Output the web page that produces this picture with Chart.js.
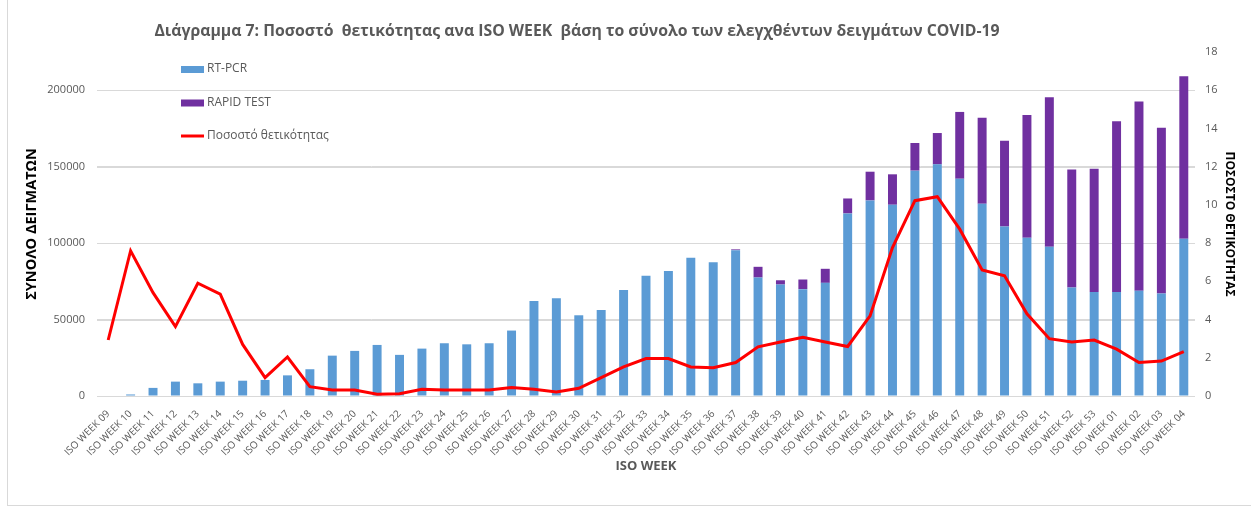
<!DOCTYPE html>
<html>
<head>
<meta charset="utf-8">
<script src="https://cdn.jsdelivr.net/npm/chart.js@4.4.1/dist/chart.umd.min.js"></script>
<style>
  html, body { margin: 0; padding: 0; background: #fff; }
  #wrap { position: relative; width: 1251px; height: 518px; }
  #chart { position: absolute; left: 0; top: 0; z-index: 1; }
  #frameL { position: absolute; left: 7px; top: 0; width: 1px; height: 506px; background: #d9d9d9; }
  #frameB { position: absolute; left: 7px; top: 505px; width: 1244px; height: 1px; background: #d9d9d9; }
  .gridline { position: absolute; height: 1px; background: #d9d9d9; z-index: 0; }
</style>
</head>
<body>
<div id="wrap">
  <div id="frameL"></div>
  <div id="frameB"></div>
  <canvas id="chart" width="1251" height="518"></canvas>
</div>
<script>
const weeks = [
  'ISO WEEK 09','ISO WEEK 10','ISO WEEK 11','ISO WEEK 12','ISO WEEK 13','ISO WEEK 14','ISO WEEK 15','ISO WEEK 16',
  'ISO WEEK 17','ISO WEEK 18','ISO WEEK 19','ISO WEEK 20','ISO WEEK 21','ISO WEEK 22','ISO WEEK 23','ISO WEEK 24',
  'ISO WEEK 25','ISO WEEK 26','ISO WEEK 27','ISO WEEK 28','ISO WEEK 29','ISO WEEK 30','ISO WEEK 31','ISO WEEK 32',
  'ISO WEEK 33','ISO WEEK 34','ISO WEEK 35','ISO WEEK 36','ISO WEEK 37','ISO WEEK 38','ISO WEEK 39','ISO WEEK 40',
  'ISO WEEK 41','ISO WEEK 42','ISO WEEK 43','ISO WEEK 44','ISO WEEK 45','ISO WEEK 46','ISO WEEK 47','ISO WEEK 48',
  'ISO WEEK 49','ISO WEEK 50','ISO WEEK 51','ISO WEEK 52','ISO WEEK 53','ISO WEEK 01','ISO WEEK 02','ISO WEEK 03',
  'ISO WEEK 04'
];

const rtPcr = [
  0, 1000, 5300, 9400, 8300, 9400, 10000, 10500,
  13500, 17500, 26400, 29500, 33400, 26900, 31000, 34500,
  33800, 34500, 42800, 62200, 64000, 52800, 56300, 69400,
  78600, 81700, 90400, 87500, 95400, 77500, 72900, 69900,
  74000, 119400, 127900, 125100, 147400, 151500, 142100, 125700,
  110900, 103500, 97600, 71000, 68100, 68100, 68800, 67000,
  102800
];

const rapidTest = [
  0, 0, 0, 0, 0, 0, 0, 0,
  0, 0, 0, 0, 0, 0, 0, 0,
  0, 0, 0, 0, 0, 0, 0, 0,
  0, 0, 0, 0, 500, 7000, 2800, 6300,
  9200, 9800, 18800, 19900, 18100, 20500, 43700, 56300,
  56100, 80300, 97800, 77100, 80600, 111600, 123800, 108500,
  106300
];

const positivity = [
  2.93, 7.6, 5.41, 3.63, 5.9, 5.33, 2.7, 0.96,
  2.04, 0.49, 0.31, 0.31, 0.09, 0.12, 0.35, 0.31,
  0.31, 0.31, 0.44, 0.35, 0.21, 0.40, 0.96, 1.52,
  1.96, 1.96, 1.52, 1.48, 1.75, 2.57, 2.83, 3.07,
  2.83, 2.59, 4.19, 7.77, 10.22, 10.43, 8.73, 6.6,
  6.29, 4.3, 3.0, 2.83, 2.93, 2.45, 1.75, 1.83,
  2.32
];

const countTicks = [0, 50000, 100000, 150000, 200000];
const pctTicks = [0, 2, 4, 6, 8, 10, 12, 14, 16, 18];

const chartTitle = 'Διάγραμμα 7: Ποσοστό  θετικότητας ανα ISO WEEK  βάση το σύνολο των ελεγχθέντων δειγμάτων COVID-19';

Chart.defaults.font.family = "'Open Sans', 'Noto Sans', sans-serif";
Chart.defaults.color = '#595959';

// title + legend are drawn by hand: Excel puts them at fixed spots, not centred on the plot
const excelDecor = {
  id: 'excelDecor',
  afterDraw(chart) {
    const ctx = chart.ctx;
    ctx.save();
    ctx.fillStyle = '#595959';
    ctx.font = "bold 15.8px 'Open Sans', sans-serif";
    ctx.textAlign = 'center';
    ctx.textBaseline = 'middle';
    ctx.fillText(chartTitle, 577, 31);

    ctx.font = "12px 'Open Sans', sans-serif";
    ctx.textAlign = 'left';
    const items = [chart.data.datasets[1], chart.data.datasets[2], chart.data.datasets[0]];
    items.forEach((ds, i) => {
      const y = 69 + i * 33.5;
      if (ds.type === 'line') {
        ctx.strokeStyle = ds.borderColor;
        ctx.lineWidth = 3;
        ctx.beginPath();
        ctx.moveTo(181, y);
        ctx.lineTo(204, y);
        ctx.stroke();
      } else {
        ctx.fillStyle = ds.backgroundColor;
        ctx.fillRect(181, y - 3, 23, 7);
      }
      ctx.fillStyle = '#595959';
      ctx.fillText(ds.label, 207, y);
    });
    ctx.restore();
  }
};

const chart = new Chart(document.getElementById('chart'), {
  type: 'bar',
  data: {
    labels: weeks,
    datasets: [
      {
        type: 'line',
        label: 'Ποσοστό θετικότητας',
        data: positivity,
        borderColor: '#FF0000',
        backgroundColor: '#FF0000',
        borderWidth: 3,
        pointRadius: 0,
        tension: 0,
        yAxisID: 'y1',
        order: 0
      },
      { label: 'RT-PCR', data: rtPcr, backgroundColor: '#5B9BD5', yAxisID: 'y', order: 1 },
      { label: 'RAPID TEST', data: rapidTest, backgroundColor: '#7030A0', yAxisID: 'y', order: 1 }
    ]
  },
  options: {
    responsive: false,
    animation: false,
    layout: { padding: { top: 52, bottom: 32, left: 0, right: 0 } },
    datasets: { bar: { barPercentage: 0.4, categoryPercentage: 1 } },
    plugins: {
      legend: { display: false },
      tooltip: { enabled: false }
    },
    scales: {
      x: {
        stacked: true,
        grid: { display: false },
        border: { display: false },
        ticks: { autoSkip: false, minRotation: 45, maxRotation: 45, padding: 4, font: { size: 10 }, color: '#595959' },
        title: { display: true, text: 'ISO WEEK', font: { size: 13, weight: 'bold' }, color: '#595959', padding: { top: 4, bottom: 12 } },
        afterFit: s => { s.height = 90; }
      },
      y: {
        stacked: true,
        position: 'left',
        min: 0,
        max: 225000,
        grid: { color: '#d9d9d9', lineWidth: 1, drawTicks: false },
        border: { display: false },
        ticks: { autoSkip: false, padding: 12, font: { size: 11 }, color: '#595959', callback: v => String(v) },
        afterBuildTicks: s => { s.ticks = countTicks.map(v => ({ value: v })); },
        title: { display: true, text: 'ΣΥΝΟΛΟ ΔΕΙΓΜΑΤΩΝ', font: { size: 14.5, weight: 'bold' }, color: '#000', padding: { top: 23, bottom: 0 } },
        afterFit: s => { s.width = 97; }
      },
      y1: {
        position: 'right',
        min: 0,
        max: 18,
        grid: { drawOnChartArea: false, drawTicks: false },
        border: { display: false },
        ticks: { autoSkip: false, padding: 10, font: { size: 11 }, color: '#595959' },
        afterBuildTicks: s => { s.ticks = pctTicks.map(v => ({ value: v })); },
        title: { display: true, text: 'ΠΟΣΟΣΤΟ ΘΕΤΙΚΟΤΗΤΑΣ', font: { size: 12, weight: 'bold' }, color: '#000', padding: { top: 14, bottom: 0 } },
        afterFit: s => { s.width = 56; }
      }
    }
  },
  plugins: [excelDecor]
});

// the canvas gridlines do not show in the snapshot, so put the same lines behind the canvas,
// at the pixels the y scale gives
const wrap = document.getElementById('wrap');
const area = chart.chartArea;
countTicks.forEach(v => {
  const line = document.createElement('div');
  line.className = 'gridline';
  line.style.left = area.left + 'px';
  line.style.width = (area.right - area.left) + 'px';
  line.style.top = Math.round(chart.scales.y.getPixelForValue(v)) + 'px';
  wrap.appendChild(line);
});
</script>
</body>
</html>
